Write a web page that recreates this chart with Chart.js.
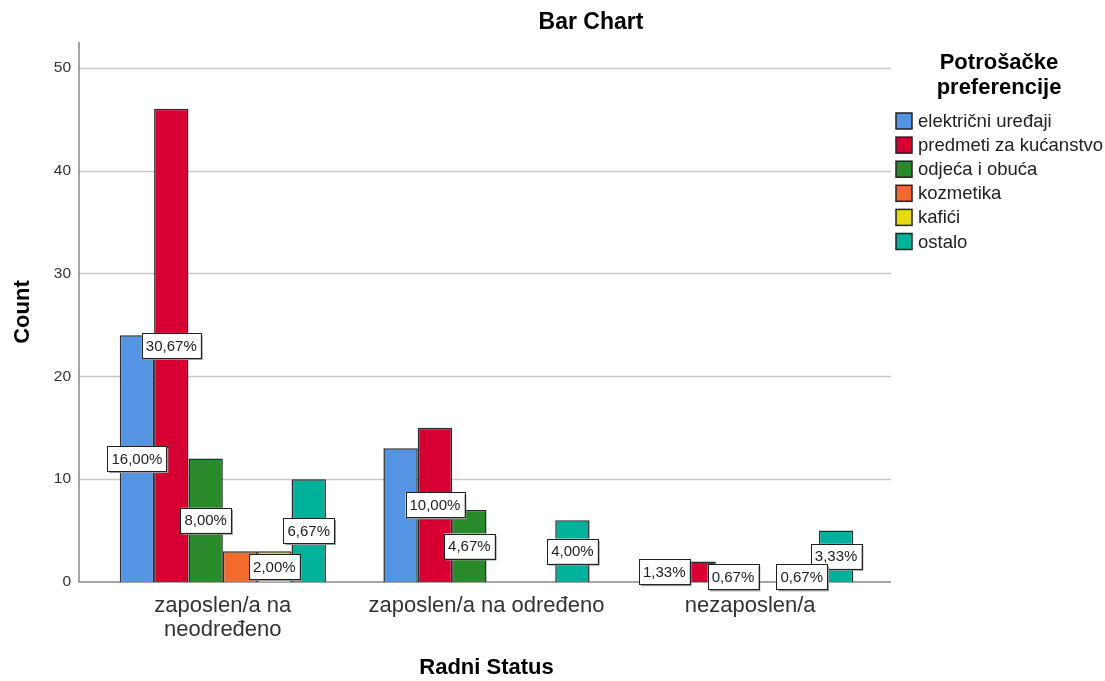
<!DOCTYPE html>
<html>
<head>
<meta charset="utf-8">
<script src="https://cdn.jsdelivr.net/npm/chart.js@4"></script>
<style>
  html, body { margin: 0; padding: 0; background: #fff; }
  #wrap { width: 1105px; height: 681px; }
</style>
</head>
<body>
<div id="wrap"><canvas id="chart" width="1105" height="681"></canvas></div>
<script>
// categories (Radni Status)
const categories = [['zaposlen/a na', 'neodređeno'], 'zaposlen/a na određeno', 'nezaposlen/a'];
const seriesNames = ['električni uređaji', 'predmeti za kućanstvo', 'odjeća i obuća', 'kozmetika', 'kafići', 'ostalo'];
const seriesColors = ['#5594e2', '#d60032', '#288a28', '#f26a2c', '#e6d910', '#00b29c'];

// counts per series, one value per category
const elektricni = [24, 13, 2];
const predmeti = [46, 15, 2];
const odjeca = [12, 7, 1];
const kozmetika = [3, 0, 0];
const kafici = [3, 0, 1];
const ostalo = [10, 6, 5];

const yTicks = [0, 10, 20, 30, 40, 50];
const total = 150;

const seriesValues = [elektricni, predmeti, odjeca, kozmetika, kafici, ostalo];

const font = 'Arial, "Liberation Sans", sans-serif';

// gridlines + axis lines, a little wider than the category area like SPSS
const framePlugin = {
    id: 'frame',
    beforeDatasetsDraw(chart) {
        const { ctx, chartArea, scales } = chart;
        const left = chartArea.left - 12, right = chartArea.right + 9;
        ctx.save();
        ctx.lineWidth = 1.5;
        ctx.strokeStyle = '#c8c8c8';
        yTicks.forEach(v => {
            if (v === 0) return;
            const y = Math.round(scales.y.getPixelForValue(v)) + 0.5;
            ctx.beginPath(); ctx.moveTo(left, y); ctx.lineTo(right, y); ctx.stroke();
        });
        ctx.strokeStyle = '#888';
        ctx.beginPath();
        ctx.moveTo(left, chartArea.top);
        ctx.lineTo(left, chartArea.bottom);
        ctx.lineTo(right, chartArea.bottom);
        ctx.stroke();
        ctx.restore();
    }
};

// percentage labels in white boxes, skipped when they collide
const labelPlugin = {
    id: 'pctLabels',
    afterDatasetsDraw(chart) {
        const { ctx } = chart;
        ctx.save();
        ctx.font = '15px ' + font;
        ctx.textAlign = 'center';
        ctx.textBaseline = 'middle';
        const drawn = [];
        for (let c = 0; c < categories.length; c++) {
            for (let d = seriesValues.length - 1; d >= 0; d--) {
                const v = seriesValues[d][c];
                if (!v) continue;
                const bar = chart.getDatasetMeta(d).data[c];
                const txt = (v / total * 100).toFixed(2).replace('.', ',') + '%';
                const w = ctx.measureText(txt).width + 8, h = 25;
                const x = bar.x, y = (bar.y + bar.base) / 2;
                const box = { l: x - w / 2, r: x + w / 2, t: y - h / 2, b: y + h / 2 };
                const hit = drawn.some(o => Math.min(o.r, box.r) - Math.max(o.l, box.l) > 4 &&
                                            Math.min(o.b, box.b) - Math.max(o.t, box.t) > 6);
                if (hit) continue;
                drawn.push(box);
                ctx.fillStyle = '#999';
                ctx.fillRect(box.l + 2, box.t + 2, w, h);
                ctx.fillStyle = '#fff';
                ctx.fillRect(box.l, box.t, w, h);
                ctx.strokeStyle = '#222';
                ctx.lineWidth = 1;
                ctx.strokeRect(Math.round(box.l) + 0.5, Math.round(box.t) + 0.5, Math.round(w), h);
                ctx.fillStyle = '#222';
                ctx.fillText(txt, x, y + 1);
            }
        }
        ctx.restore();
    }
};

// title and legend on the right
const sidePlugin = {
    id: 'side',
    afterDraw(chart) {
        const { ctx, chartArea } = chart;
        ctx.save();
        ctx.fillStyle = '#000';
        ctx.textAlign = 'center';
        ctx.textBaseline = 'middle';
        ctx.font = 'bold 23px ' + font;
        ctx.fillText('Bar Chart', 591, 23);

        const lx = chartArea.right + 14;
        ctx.font = 'bold 22px ' + font;
        ctx.fillText('Potrošačke', 999, 63);
        ctx.fillText('preferencije', 999, 88);

        ctx.textAlign = 'left';
        ctx.font = '18.5px ' + font;
        seriesNames.forEach((name, i) => {
            const y = 121 + i * 24.1;
            ctx.fillStyle = seriesColors[i];
            ctx.fillRect(lx, y - 8, 16, 16);
            ctx.strokeStyle = '#222';
            ctx.lineWidth = 1.5;
            ctx.strokeRect(lx, y - 8, 16, 16);
            ctx.fillStyle = '#222';
            ctx.fillText(name, lx + 22, y + 1);
        });
        ctx.restore();
    }
};

new Chart(document.getElementById('chart'), {
    type: 'bar',
    data: {
        labels: categories,
        datasets: seriesNames.map((name, i) => ({
            label: name,
            data: seriesValues[i],
            backgroundColor: seriesColors[i],
            borderColor: '#2a2a2a',
            borderWidth: 1.5,
            categoryPercentage: 0.782,
            barPercentage: 1.0
        }))
    },
    options: {
        responsive: false,
        animation: false,
        devicePixelRatio: 1,
        layout: { padding: { top: 42, right: 223, left: 0, bottom: 0 } },
        plugins: {
            legend: { display: false },
            title: { display: false },
            tooltip: { enabled: false }
        },
        scales: {
            x: {
                grid: { display: false, drawTicks: false },
                border: { display: false },
                ticks: { color: '#333', font: { family: font, size: 22, lineHeight: 1.1 }, padding: 12, maxRotation: 0, autoSkip: false },
                title: { display: true, text: 'Radni Status', color: '#000', font: { family: font, size: 22, weight: 'bold' }, padding: { top: 0, bottom: 0 } },
                afterFit(scale) { scale.height = 99; }
            },
            y: {
                min: 0,
                max: 52.5,
                grid: { display: false, drawTicks: false },
                border: { display: false },
                ticks: { stepSize: 10, color: '#333', font: { family: font, size: 15.5 }, padding: 20 },
                afterBuildTicks(scale) { scale.ticks = yTicks.map(v => ({ value: v })); },
                title: { display: true, text: 'Count', color: '#000', font: { family: font, size: 22, weight: 'bold' }, padding: { top: 10, bottom: 0 } },
                afterFit(scale) { scale.width = 91; }
            }
        }
    },
    plugins: [framePlugin, labelPlugin, sidePlugin]
});
</script>
</body>
</html>
